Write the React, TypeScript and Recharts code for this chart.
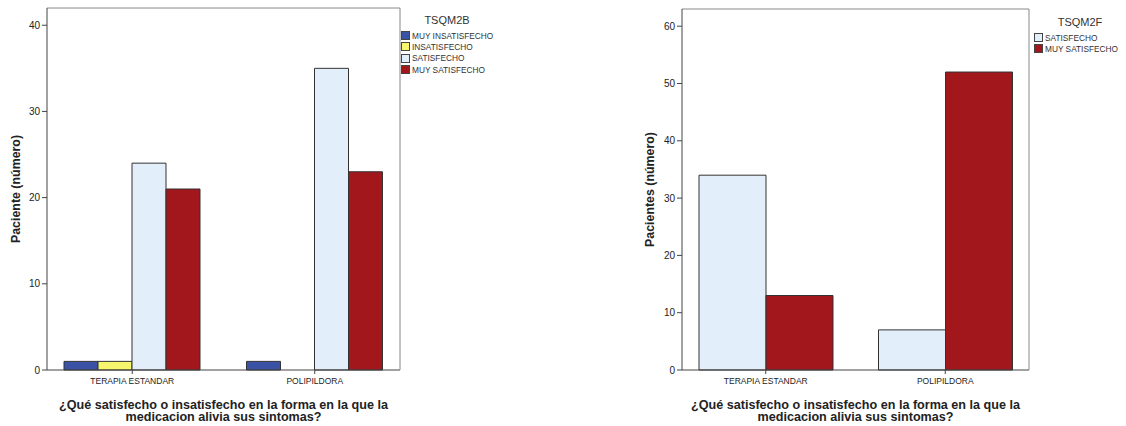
import { BarChart, Bar, XAxis, YAxis, Legend } from 'recharts';

const groups = ['TERAPIA ESTANDAR', 'POLIPILDORA'];

// TSQM2B
const series2B = ['MUY INSATISFECHO', 'INSATISFECHO', 'SATISFECHO', 'MUY SATISFECHO'];
const muyInsatisfecho2B = [1, 1];
const insatisfecho2B = [1, 0];
const satisfecho2B = [24, 35];
const muySatisfecho2B = [21, 23];
const ticks2B = [0, 10, 20, 30, 40];

// TSQM2F
const series2F = ['SATISFECHO', 'MUY SATISFECHO'];
const satisfecho2F = [34, 7];
const muySatisfecho2F = [13, 52];
const ticks2F = [0, 10, 20, 30, 40, 50, 60];

const BLUE = '#3a53a4';
const YELLOW = '#f8f66c';
const LIGHT = '#e2eefa';
const RED = '#a1171c';
const FONT = '"Liberation Sans", Arial, sans-serif';

const colors2B = [BLUE, YELLOW, LIGHT, RED];
const colors2F = [LIGHT, RED];

const data2B = groups.map((g, i) => ({
  group: g,
  muyInsat: muyInsatisfecho2B[i],
  insat: insatisfecho2B[i],
  sat: satisfecho2B[i],
  muySat: muySatisfecho2B[i],
}));

const data2F = groups.map((g, i) => ({
  group: g,
  sat: satisfecho2F[i],
  muySat: muySatisfecho2F[i],
}));

const xTitle = (props: any) => {
  const { viewBox } = props;
  const cx = viewBox.x + viewBox.width / 2;
  return (
    <text
      x={cx}
      y={viewBox.y + 39}
      textAnchor="middle"
      fontFamily={FONT}
      fontWeight="bold"
      fontSize={12.6}
      fill="#222"
    >
      <tspan x={cx}>¿Qué satisfecho o insatisfecho en la forma en la que la</tspan>
      <tspan x={cx} dy={12}>medicacion alivia sus sintomas?</tspan>
    </text>
  );
};

const yTitle = (text: string, x: number) => (props: any) => {
  const { viewBox } = props;
  const cy = viewBox.y + viewBox.height / 2;
  return (
    <text
      x={x}
      y={cy}
      transform={`rotate(-90 ${x} ${cy})`}
      textAnchor="middle"
      dominantBaseline="central"
      fontFamily={FONT}
      fontWeight="bold"
      fontSize={12.4}
      fill="#222"
    >
      {text}
    </text>
  );
};

const legendContent = (title: string, names: string[], colors: string[]) => () => (
  <div style={{ fontFamily: FONT, color: '#333' }}>
    <div style={{ fontSize: 11, textAlign: 'center', width: 92, marginBottom: 4 }}>{title}</div>
    {names.map((n, i) => (
      <div key={n} style={{ display: 'flex', alignItems: 'center', height: 11.3, fontSize: 8.3 }}>
        <span
          style={{
            display: 'inline-block',
            width: 7,
            height: 7,
            background: colors[i],
            border: '1px solid #444',
            marginRight: 2,
          }}
        />
        {n}
      </div>
    ))}
  </div>
);

const tickY = { fontSize: 10, fill: '#222', fontFamily: FONT };
const tickX = { fontSize: 8.5, fill: '#222', fontFamily: FONT };

export default function App() {
  return (
    <div style={{ position: 'absolute', left: 0, top: 0, width: 1126, height: 426, background: '#fff' }}>
      <div style={{ position: 'absolute', left: 0, top: 0 }}>
        <BarChart
          width={540}
          height={426}
          data={data2B}
          margin={{ top: 7, right: 139, bottom: 0, left: 0 }}
          barCategoryGap={23}
          barGap={0}
        >
          <XAxis
            dataKey="group"
            height={56}
            padding={{ left: -6, right: -6 }}
            tick={tickX}
            tickSize={4}
            tickMargin={4}
            stroke="#444"
            label={xTitle}
          />
          <XAxis xAxisId="top" dataKey="group" orientation="top" height={1} tick={false} tickLine={false} stroke="#888" />
          <YAxis
            width={47}
            domain={[0, 42]}
            ticks={ticks2B}
            tick={tickY}
            tickSize={5}
            stroke="#444"
            label={yTitle('Paciente (número)', 16)}
          />
          <YAxis yAxisId="right" orientation="right" width={1} domain={[0, 42]} tick={false} tickLine={false} stroke="#888" />
          <Legend
            layout="vertical"
            align="center"
            verticalAlign="middle"
            content={legendContent('TSQM2B', series2B, colors2B)}
            wrapperStyle={{ position: 'absolute', left: 401, top: 14, width: 135 }}
          />
          <Bar dataKey="muyInsat" name={series2B[0]} fill={BLUE} stroke="#333" strokeWidth={1} isAnimationActive={false} />
          <Bar dataKey="insat" name={series2B[1]} fill={YELLOW} stroke="#333" strokeWidth={1} isAnimationActive={false} />
          <Bar dataKey="sat" name={series2B[2]} fill={LIGHT} stroke="#333" strokeWidth={1} isAnimationActive={false} />
          <Bar dataKey="muySat" name={series2B[3]} fill={RED} stroke="#333" strokeWidth={1} isAnimationActive={false} />
        </BarChart>
      </div>
      <div style={{ position: 'absolute', left: 600, top: 0 }}>
        <BarChart
          width={526}
          height={426}
          data={data2F}
          margin={{ top: 8, right: 96, bottom: 0, left: 0 }}
          barCategoryGap={23}
          barGap={0}
        >
          <XAxis
            dataKey="group"
            height={56}
            padding={{ left: -6, right: -6 }}
            tick={tickX}
            tickSize={4}
            tickMargin={4}
            stroke="#444"
            label={xTitle}
          />
          <XAxis xAxisId="top" dataKey="group" orientation="top" height={1} tick={false} tickLine={false} stroke="#888" />
          <YAxis
            width={82}
            domain={[0, 63]}
            ticks={ticks2F}
            tick={tickY}
            tickSize={5}
            stroke="#444"
            label={yTitle('Pacientes (número)', 50)}
          />
          <YAxis yAxisId="right" orientation="right" width={1} domain={[0, 63]} tick={false} tickLine={false} stroke="#888" />
          <Legend
            layout="vertical"
            align="center"
            verticalAlign="middle"
            content={legendContent('TSQM2F', series2F, colors2F)}
            wrapperStyle={{ position: 'absolute', left: 434, top: 16, width: 92 }}
          />
          <Bar dataKey="sat" name={series2F[0]} fill={LIGHT} stroke="#333" strokeWidth={1} isAnimationActive={false} />
          <Bar dataKey="muySat" name={series2F[1]} fill={RED} stroke="#333" strokeWidth={1} isAnimationActive={false} />
        </BarChart>
      </div>
    </div>
  );
}
